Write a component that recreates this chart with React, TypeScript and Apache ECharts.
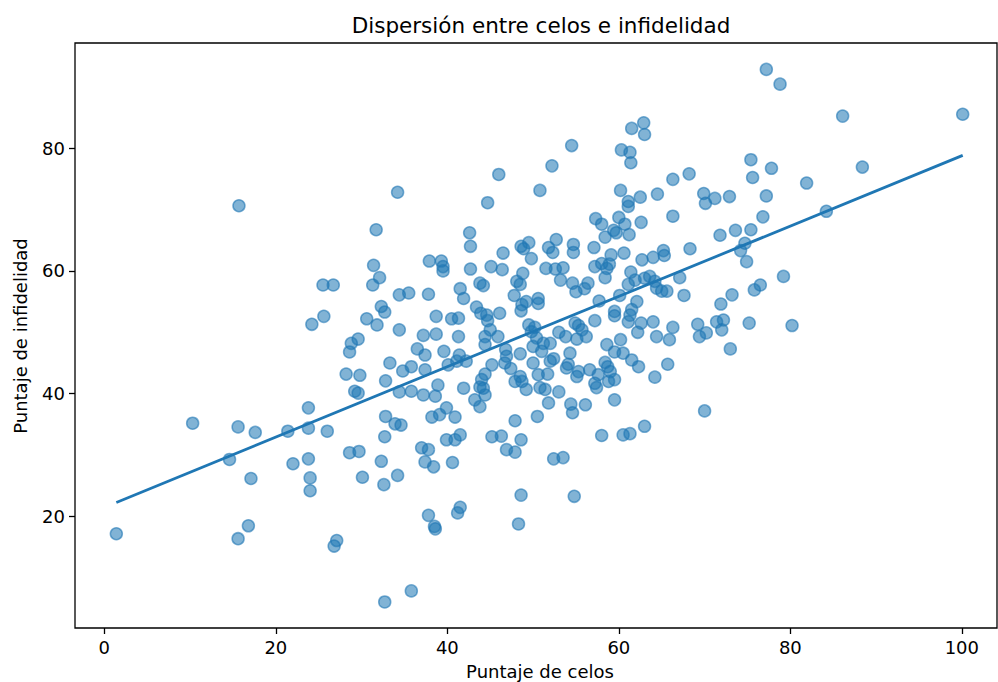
import React, { useEffect, useRef } from "react";
import * as echarts from "echarts";

// Puntaje de celos (x) and Puntaje de infidelidad (y)
const celos = [
  1.4, 10.3, 14.6, 15.6, 15.6, 15.7, 16.8, 17.1, 17.6, 21.4, 22.0, 23.8, 23.8, 23.8, 24.0, 24.0, 24.2, 25.6, 25.5, 26.7,
  26.0, 27.1, 26.8, 28.6, 29.7, 32.3, 30.1, 32.6, 34.2, 37.0, 37.8, 37.4, 38.4, 40.6, 39.9, 40.9, 46.9, 47.9, 48.6, 48.6,
  48.3, 37.8, 38.5, 38.6, 41.5, 41.2, 35.8, 32.7, 46.3, 45.2, 52.4, 53.5, 54.8, 58.0, 60.5, 61.3, 46.0, 34.2, 44.7, 31.7,
  42.6, 50.8, 49.5, 77.2, 62.9, 61.5, 63.0, 54.5, 60.3, 61.3, 61.4, 52.2, 75.4, 75.6, 77.8, 68.2, 66.3, 60.2, 61.1, 61.1,
  62.5, 64.5, 69.9, 70.1, 71.2, 72.9, 77.2, 76.8, 66.3, 62.6, 57.3, 58.0, 60.0, 60.7, 59.4, 59.7, 58.4, 61.2, 52.7, 71.8,
  73.6, 75.4, 78.8, 86.1, 100.1, 88.4, 81.9, 84.2, 79.2, 80.2, 51.8, 52.3, 54.7, 54.7, 57.1, 60.6, 59.1, 65.2, 65.3, 64.0,
  62.7, 68.3, 74.2, 74.7, 74.9, 51.5, 52.6, 53.5, 53.2, 54.6, 55.0, 56.0, 56.4, 57.2, 58.0, 58.6, 58.9, 58.4, 61.4, 61.9,
  61.1, 63.0, 63.6, 64.2, 64.4, 65.0, 65.6, 67.1, 67.6, 50.6, 50.6, 57.7, 60.1, 62.1, 61.5, 61.3, 61.1, 59.5, 59.5, 57.2,
  54.9, 55.3, 55.7, 56.2, 55.1, 53.8, 53.0, 52.0, 51.2, 50.2, 62.6, 62.2, 64.0, 64.4, 65.9, 66.3, 69.2, 69.4, 70.2, 71.4,
  72.2, 72.0, 71.9, 73.2, 75.2, 75.8, 76.5, 73.0, 70.0, 65.7, 64.2, 62.3, 61.5, 60.5, 59.5, 60.2, 58.6, 58.4, 58.7, 59.0,
  59.5, 58.8, 57.6, 57.2, 57.4, 56.6, 55.3, 55.1, 54.1, 53.9, 54.3, 52.4, 52.0, 51.0, 51.7, 50.6, 50.8, 51.4, 53.0, 51.8,
  54.4, 54.6, 56.1, 59.5, 50.5, 63.0, 42.7, 48.6, 48.9, 46.5, 49.8, 37.9, 39.3, 39.5, 39.5, 42.7, 45.1, 46.4, 31.4, 32.1,
  31.3, 43.8, 44.2, 48.8, 48.1, 48.5, 47.8, 41.5, 41.9, 37.8, 34.4, 35.5, 32.3, 32.7, 30.6, 31.8, 34.4, 38.7, 40.5, 41.3,
  43.4, 43.9, 44.6, 44.7, 46.1, 48.7, 49.2, 48.6, 49.5, 49.8, 50.4, 50.0, 44.4, 44.4, 45.0, 45.9, 41.3, 38.7, 37.2, 29.6,
  28.8, 28.6, 36.5, 37.4, 39.6, 41.4, 41.1, 42.2, 40.1, 46.8, 46.9, 46.7, 47.4, 48.5, 50.0, 48.5, 48.7, 47.9, 49.2, 45.2,
  44.4, 44.0, 44.2, 44.4, 43.8, 43.2, 43.8, 41.9, 38.9, 38.6, 37.2, 35.8, 34.4, 29.2, 29.6, 32.8, 33.3, 34.8, 35.8, 37.4,
  28.2, 29.8, 32.8, 33.9, 34.6, 38.2, 39.1, 39.9, 40.9, 47.9, 32.7, 41.5,
];
const infidelidad = [
  17.2, 35.2, 29.3, 34.6, 16.4, 70.6, 18.5, 26.2, 33.7, 33.9, 28.6, 29.4, 37.7, 34.4, 26.3, 24.2, 51.3, 52.6, 57.7, 57.7,
  33.9, 16.1, 15.2, 30.4, 30.6, 29.0, 26.4, 25.2, 26.7, 31.2, 30.9, 28.9, 28.1, 28.8, 32.5, 32.5, 30.9, 30.5, 32.5, 23.5,
  18.8, 20.2, 18.4, 18.0, 21.5, 20.6, 7.9, 6.1, 33.1, 33.0, 29.4, 29.6, 23.3, 33.2, 33.3, 33.5, 75.7, 72.8, 71.1, 66.7,
  66.2, 73.1, 64.6, 92.8, 84.1, 83.2, 82.2, 80.4, 79.7, 79.3, 77.6, 77.1, 78.1, 75.2, 76.7, 75.8, 74.9, 73.1, 71.3, 70.5,
  72.0, 72.5, 72.6, 71.0, 71.8, 72.1, 72.2, 68.8, 68.9, 67.9, 68.5, 67.6, 68.7, 67.6, 66.6, 66.2, 65.5, 65.9, 65.1, 65.8,
  66.6, 66.7, 90.4, 85.2, 85.5, 76.9, 74.3, 69.7, 59.1, 51.1, 63.8, 63.0, 64.3, 63.0, 63.8, 62.9, 62.6, 63.3, 62.5, 62.2,
  61.8, 63.6, 63.3, 64.5, 61.5, 60.4, 60.3, 60.5, 58.5, 58.0, 56.6, 57.1, 58.0, 60.7, 61.2, 60.4, 61.1, 58.9, 59.8, 58.5,
  57.8, 58.8, 59.1, 58.3, 57.2, 56.7, 56.7, 58.9, 56.0, 55.5, 54.7, 55.1, 56.0, 55.0, 53.7, 52.8, 51.7, 53.4, 52.7, 51.9,
  51.5, 51.1, 50.4, 49.3, 48.9, 49.3, 50.0, 48.2, 48.2, 50.8, 51.5, 50.0, 51.7, 49.3, 48.8, 50.8, 51.3, 49.3, 49.9, 51.7,
  52.0, 50.4, 54.6, 56.1, 51.5, 56.9, 57.7, 47.3, 37.2, 44.8, 42.7, 44.4, 45.5, 46.6, 46.8, 48.8, 48.0, 45.1, 44.4, 43.6,
  42.3, 42.0, 43.1, 41.7, 41.0, 43.9, 43.6, 42.8, 44.8, 44.2, 46.6, 45.7, 45.3, 46.9, 43.2, 43.1, 41.0, 40.7, 40.3, 38.5,
  38.3, 36.9, 38.2, 39.0, 36.3, 34.7, 64.0, 64.0, 63.6, 62.9, 62.0, 61.6, 61.6, 60.7, 60.0, 60.3, 60.7, 60.2, 60.9, 58.9,
  57.7, 58.0, 57.6, 59.6, 58.3, 57.8, 56.0, 57.1, 55.5, 56.2, 56.1, 56.4, 54.2, 53.3, 52.2, 51.2, 50.4, 52.6, 52.2, 52.3,
  54.1, 53.1, 52.8, 51.9, 53.1, 54.5, 55.0, 53.5, 51.2, 50.1, 49.1, 47.7, 49.3, 48.0, 50.4, 49.3, 49.3, 49.7, 49.5, 48.9,
  48.2, 46.8, 47.3, 46.3, 46.9, 46.3, 45.3, 45.3, 44.7, 47.2, 46.1, 45.0, 44.1, 46.5, 45.0, 42.8, 42.0, 42.0, 40.7, 44.7,
  43.2, 42.3, 40.9, 39.8, 41.1, 39.0, 37.9, 40.9, 41.4, 39.6, 39.8, 40.4, 40.3, 40.4, 40.1, 42.1, 45.0, 43.7, 44.4, 43.9,
  43.2, 43.0, 36.3, 35.1, 34.9, 36.2, 36.6, 37.7, 36.2, 35.6, 33.0, 33.3,
];

// Regression line endpoints
const fitX = [1.4, 100.1];
const fitY = [22.3, 78.8];

const xTicks = [0, 20, 40, 60, 80, 100];
const yTicks = [20, 40, 60, 80];

const titleText = "Dispersión entre celos e infidelidad";
const xLabel = "Puntaje de celos";
const yLabel = "Puntaje de infidelidad";

const FONT = "DejaVu Sans";

export default function App() {
  const ref = useRef<HTMLDivElement>(null);
  useEffect(() => {
    const chart = echarts.init(ref.current!, null, { renderer: "svg" });
    const points = celos.map((x, i) => [x, infidelidad[i]]);
    const fit = fitX.map((x, i) => [x, fitY[i]]);
    const axisCommon = {
      type: "value" as const,
      splitLine: { show: false },
      axisLine: { show: false, onZero: false },
      axisTick: { show: true, length: 6, lineStyle: { color: "#000", width: 1.3 } },
      axisLabel: { color: "#000", fontSize: 18, fontFamily: FONT, margin: 10 },
    };
    chart.setOption({
      animation: false,
      backgroundColor: "#fff",
      grid: { left: 75, right: 1, top: 43, bottom: 54, show: true, borderColor: "#000", borderWidth: 1.3, backgroundColor: "transparent" },
      xAxis: {
        ...axisCommon,
        min: -3.42,
        max: 104.1,
        axisTick: { ...axisCommon.axisTick, customValues: xTicks },
        axisLabel: { ...axisCommon.axisLabel, customValues: xTicks },
      },
      yAxis: {
        ...axisCommon,
        min: 1.86,
        max: 97.1,
        axisTick: { ...axisCommon.axisTick, customValues: yTicks },
        axisLabel: { ...axisCommon.axisLabel, customValues: yTicks },
      },
      graphic: [
        { type: "text", x: 541, y: 25, style: { text: titleText, fontSize: 21.5, fontFamily: FONT, fill: "#000", textAlign: "center", textVerticalAlign: "middle" } },
        { type: "text", x: 540, y: 671, style: { text: xLabel, fontSize: 18, fontFamily: FONT, fill: "#000", textAlign: "center", textVerticalAlign: "middle" } },
        { type: "text", x: 20, y: 336, rotation: Math.PI / 2, style: { text: yLabel, fontSize: 18, fontFamily: FONT, fill: "#000", textAlign: "center", textVerticalAlign: "middle" } },
      ],
      series: [
        {
          type: "scatter",
          data: points,
          symbolSize: 12,
          itemStyle: { color: "rgba(31,119,180,0.7)", borderColor: "rgba(31,119,180,0.75)", borderWidth: 1.5 },
          z: 2,
        },
        {
          type: "line",
          data: fit,
          showSymbol: false,
          symbol: "none",
          lineStyle: { color: "#1f77b4", width: 2.8 },
          z: 3,
        },
      ],
    });
    return () => chart.dispose();
  }, []);
  return <div ref={ref} style={{ position: "fixed", left: 0, top: 0, width: 998, height: 682 }} />;
}
